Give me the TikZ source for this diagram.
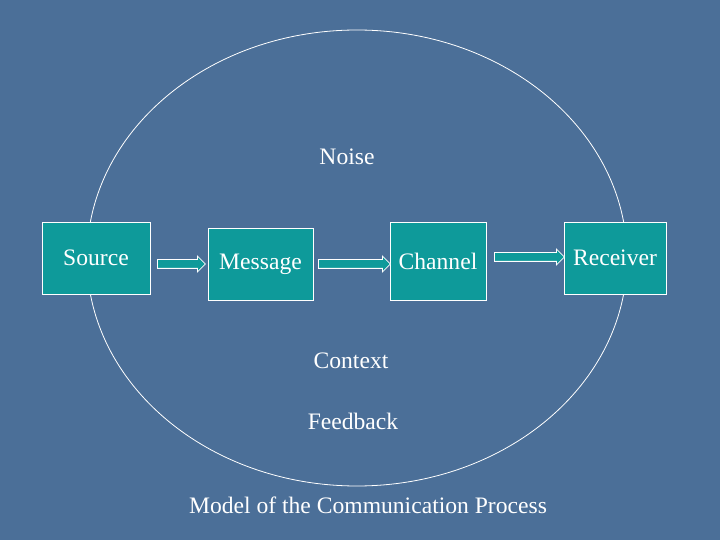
\documentclass[tikz,border=0pt]{standalone}
\usepackage{fontspec}
\setmainfont{Liberation Serif}
\usetikzlibrary{shapes.arrows}
\definecolor{bg}{HTML}{4B6F98}
\definecolor{teal1}{HTML}{0E9A9A}
\begin{document}
\begin{tikzpicture}[x=0.5pt,y=-0.5pt,
  box/.style={draw=white, fill=teal1, text=white, font=\fontsize{11.8}{13}\selectfont, inner sep=0pt},
  lbl/.style={text=white, font=\fontsize{11.8}{13}\selectfont},
  barrow/.style={single arrow, draw=white, fill=teal1, inner xsep=0pt, inner ysep=2pt, single arrow head extend=1.8pt, single arrow head indent=0pt, minimum height=#1}]
\fill[bg] (0,0) rectangle (720,540);
\useasboundingbox (0,0) rectangle (720,540);
\draw[white, line width=0.4pt] (357,258) ellipse [x radius=270, y radius=228];
\node[box, minimum width=54pt, minimum height=36pt] (source) at (96,258) {Source};
\node[box, minimum width=52.5pt, minimum height=36pt] (message) at (260.5,264) {Message};
\node[box, minimum width=48pt, minimum height=39pt] (channel) at (438,261) {Channel};
\node[box, minimum width=51pt, minimum height=36pt] (receiver) at (615,258) {Receiver};
\node[barrow=24pt, anchor=west] (a1) at (157,264) {};
\node[barrow=36pt, anchor=west] (a2) at (318,264) {};
\node[barrow=35pt, anchor=west] (a3) at (494,257) {};
\node[lbl] (noise) at (347,157) {Noise};
\node[lbl] (context) at (351,361) {Context};
\node[lbl] (feedback) at (353,421) {Feedback};
\node[lbl] (title) at (368,505) {Model of the Communication Process};
\end{tikzpicture}
\end{document}
